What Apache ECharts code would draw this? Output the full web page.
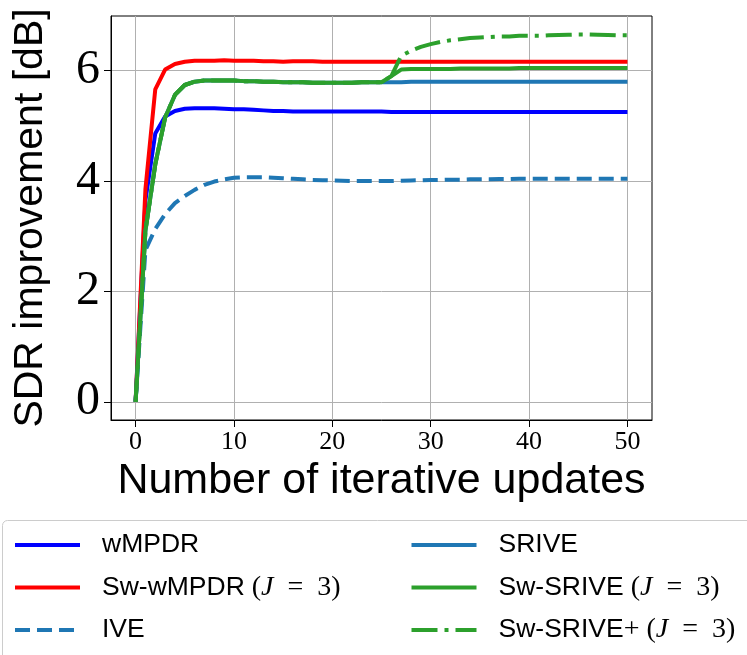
<!DOCTYPE html>
<html>
<head>
<meta charset="utf-8">
<title>SDR improvement vs. iterative updates</title>
<script src="https://cdn.jsdelivr.net/npm/echarts@6/dist/echarts.min.js"></script>
<style>
  html, body { margin: 0; padding: 0; background: #ffffff; }
  #chart { width: 747px; height: 655px; }
</style>
</head>
<body>
<div id="chart"></div>
<script>
// Iteration index (x) and SDR improvement in dB (y) for each method.
var iterations = [0, 1, 2, 3, 4, 5, 6, 7, 8, 9, 10, 11, 12, 13, 14, 15, 16, 17, 18, 19, 20,
  21, 22, 23, 24, 25, 26, 27, 28, 29, 30, 31, 32, 33, 34, 35, 36, 37, 38, 39, 40,
  41, 42, 43, 44, 45, 46, 47, 48, 49, 50];

var wMPDR = [0, 3.65, 4.86, 5.17, 5.27, 5.31, 5.32, 5.32, 5.32, 5.31, 5.30,
  5.30, 5.29, 5.28, 5.27, 5.27, 5.26, 5.26, 5.26, 5.26, 5.26,
  5.26, 5.26, 5.26, 5.26, 5.26, 5.25, 5.25, 5.25, 5.25, 5.25,
  5.25, 5.25, 5.25, 5.25, 5.25, 5.25, 5.25, 5.25, 5.25, 5.25,
  5.25, 5.25, 5.25, 5.25, 5.25, 5.25, 5.25, 5.25, 5.25, 5.25];

var swWMPDR = [0, 3.85, 5.66, 6.02, 6.12, 6.16, 6.18, 6.18, 6.18, 6.19, 6.18,
  6.18, 6.18, 6.17, 6.17, 6.16, 6.17, 6.17, 6.17, 6.16, 6.16,
  6.16, 6.16, 6.16, 6.16, 6.16, 6.16, 6.16, 6.16, 6.16, 6.16,
  6.16, 6.16, 6.16, 6.16, 6.16, 6.16, 6.16, 6.16, 6.16, 6.16,
  6.16, 6.16, 6.16, 6.16, 6.16, 6.16, 6.16, 6.16, 6.16, 6.16];

var ive = [0, 2.75, 3.13, 3.40, 3.60, 3.73, 3.84, 3.93, 3.99, 4.03, 4.06,
  4.07, 4.07, 4.07, 4.06, 4.05, 4.04, 4.03, 4.02, 4.015, 4.01,
  4.005, 4.00, 4.00, 4.00, 4.00, 4.00, 4.005, 4.01, 4.015, 4.02,
  4.02, 4.025, 4.025, 4.03, 4.03, 4.03, 4.035, 4.035, 4.04, 4.04,
  4.04, 4.04, 4.04, 4.04, 4.04, 4.04, 4.04, 4.04, 4.04, 4.04];

var srive = [0, 3.10, 4.30, 5.15, 5.56, 5.74, 5.80, 5.82, 5.82, 5.82, 5.82,
  5.81, 5.81, 5.80, 5.80, 5.79, 5.79, 5.79, 5.78, 5.78, 5.78,
  5.78, 5.78, 5.79, 5.79, 5.79, 5.79, 5.79, 5.80, 5.80, 5.80,
  5.80, 5.80, 5.80, 5.80, 5.80, 5.80, 5.80, 5.80, 5.80, 5.80,
  5.80, 5.80, 5.80, 5.80, 5.80, 5.80, 5.80, 5.80, 5.80, 5.80];

var swSRIVE = [0, 3.10, 4.30, 5.15, 5.56, 5.74, 5.80, 5.82, 5.82, 5.82, 5.82,
  5.81, 5.81, 5.80, 5.80, 5.79, 5.79, 5.79, 5.78, 5.78, 5.78,
  5.78, 5.78, 5.79, 5.79, 5.79, 5.90, 6.02, 6.03, 6.03, 6.03,
  6.03, 6.03, 6.04, 6.04, 6.04, 6.04, 6.04, 6.04, 6.05, 6.05,
  6.05, 6.05, 6.05, 6.05, 6.05, 6.05, 6.05, 6.05, 6.05, 6.05];

var swSRIVEplus = [0, 3.10, 4.30, 5.15, 5.56, 5.74, 5.80, 5.82, 5.82, 5.82, 5.82,
  5.81, 5.81, 5.80, 5.80, 5.79, 5.79, 5.79, 5.78, 5.78, 5.78,
  5.78, 5.78, 5.79, 5.79, 5.79, 5.90, 6.27, 6.36, 6.43, 6.48,
  6.52, 6.55, 6.57, 6.59, 6.60, 6.61, 6.62, 6.62, 6.63, 6.63,
  6.63, 6.64, 6.645, 6.65, 6.655, 6.655, 6.65, 6.645, 6.64, 6.64];

var xTicks = [0, 10, 20, 30, 40, 50];
var yTicks = [0, 2, 4, 6];

var seriesNames = ['wMPDR', 'Sw-wMPDR (J = 3)', 'IVE', 'SRIVE', 'Sw-SRIVE (J = 3)', 'Sw-SRIVE+ (J = 3)'];

function pairs(ys) {
  return ys.map(function (y, i) { return [iterations[i], y]; });
}

var LINE_W = 4;
function lineSeries(name, ys, color, dash) {
  return {
    name: name,
    type: 'line',
    data: pairs(ys),
    symbol: 'none',
    showSymbol: false,
    smooth: false,
    animation: false,
    lineStyle: { color: color, width: LINE_W, type: dash || 'solid', cap: 'butt' },
    itemStyle: { color: color }
  };
}

// Legend labels: plain sans text followed by a serif math part.
function legendLabel(name) {
  var k = name.indexOf(' (J = 3)');
  if (k < 0) return name;
  var head = name.slice(0, k);
  var plus = '';
  if (head.charAt(head.length - 1) === '+') {
    head = head.slice(0, -1);
    plus = '{m|+}';
  }
  return head + plus + '{m| (}{j|J}{m|\u2002=\u20023)}';
}

var legendText = {
  fontFamily: 'Liberation Sans',
  fontSize: 26.5,
  color: '#000000',
  lineHeight: 30,
  padding: [0, 0, 0, 17],
  rich: {
    m: { fontFamily: 'Liberation Serif', fontSize: 28, lineHeight: 30, color: '#000000' },
    j: { fontFamily: 'Liberation Serif', fontStyle: 'italic', fontSize: 28, lineHeight: 30, color: '#000000' }
  }
};

function legendBlock(left, names) {
  return {
    orient: 'vertical',
    left: left,
    top: 530,
    padding: 0,
    itemWidth: 65,
    itemHeight: 30,
    itemGap: 12.5,
    selectedMode: false,
    data: names,
    formatter: legendLabel,
    itemStyle: { opacity: 0, borderWidth: 0 },
    lineStyle: { width: LINE_W },
    textStyle: legendText
  };
}

var chart = echarts.init(document.getElementById('chart'), null, { renderer: 'canvas' });

chart.setOption({
  backgroundColor: '#ffffff',
  animation: false,
  grid: {
    left: 111, top: 16, width: 541, height: 404,
    show: true, borderColor: '#000000', borderWidth: 1,
    backgroundColor: 'transparent',
    containLabel: false, outerBoundsMode: 'none'
  },
  xAxis: {
    type: 'value',
    min: -2.5, max: 52.5,
    name: 'Number of iterative updates',
    nameLocation: 'middle',
    nameGap: 38,
    nameTextStyle: { fontFamily: 'Liberation Sans', fontSize: 43, color: '#000000' },
    axisLine: { show: true, onZero: false, lineStyle: { color: '#000000', width: 1 } },
    axisTick: { show: true, inside: false, length: 7, customValues: xTicks, lineStyle: { color: '#000000', width: 1 } },
    axisLabel: { show: true, margin: 9, customValues: xTicks, fontFamily: 'Liberation Serif', fontSize: 26, color: '#000000' },
    splitLine: { show: true, lineStyle: { color: '#b0b0b0', width: 1 } }
  },
  yAxis: {
    type: 'value',
    min: -0.33, max: 6.99,
    name: 'SDR improvement [dB]',
    nameLocation: 'middle',
    nameRotate: 90,
    nameGap: 60,
    nameTextStyle: { fontFamily: 'Liberation Sans', fontSize: 41, color: '#000000' },
    axisLine: { show: true, onZero: false, lineStyle: { color: '#000000', width: 1 } },
    axisTick: { show: true, inside: false, length: 7, customValues: yTicks, lineStyle: { color: '#000000', width: 1 } },
    axisLabel: { show: true, margin: 11, customValues: yTicks, fontFamily: 'Liberation Serif', fontSize: 48, color: '#000000' },
    splitLine: { show: true, lineStyle: { color: '#b0b0b0', width: 1 } }
  },
  legend: [
    legendBlock(13, [seriesNames[0], seriesNames[1], seriesNames[2]]),
    legendBlock(409.5, [seriesNames[3], seriesNames[4], seriesNames[5]])
  ],
  graphic: [{
    type: 'rect',
    shape: { x: 2.5, y: 520.5, width: 780, height: 160, r: 5 },
    style: { fill: '#ffffff', stroke: '#cccccc', lineWidth: 1 },
    z: -1, silent: true
  }],
  series: [
    lineSeries(seriesNames[0], wMPDR, '#0000ff'),
    lineSeries(seriesNames[1], swWMPDR, '#ff0000'),
    lineSeries(seriesNames[2], ive, '#1f77b4', [15, 7]),
    lineSeries(seriesNames[3], srive, '#1f77b4'),
    lineSeries(seriesNames[4], swSRIVE, '#2ca02c'),
    lineSeries(seriesNames[5], swSRIVEplus, '#2ca02c', [26, 7, 4, 7])
  ]
});
</script>
</body>
</html>
